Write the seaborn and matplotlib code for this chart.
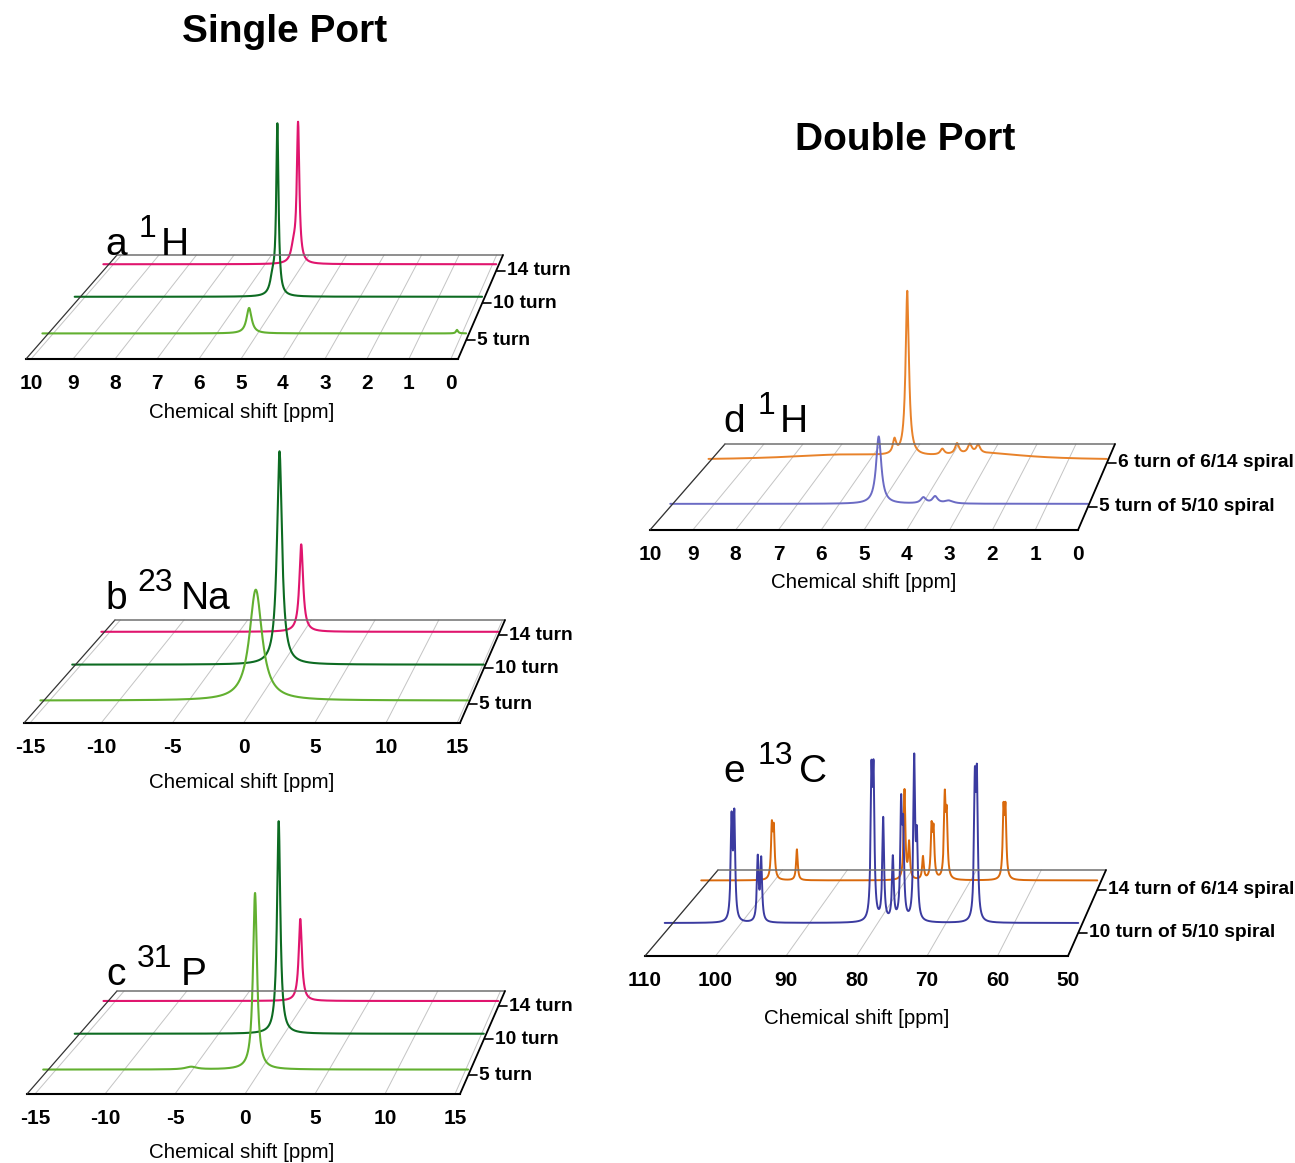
import numpy as np
import matplotlib
matplotlib.use("Agg")
import matplotlib.pyplot as plt
import matplotlib.transforms as mtransforms
from matplotlib.lines import Line2D
import seaborn as sns

sns.set_style("white")
plt.rcParams["font.family"] = ["Liberation Sans", "DejaVu Sans"]
plt.rcParams["axes.unicode_minus"] = False
plt.rcParams["text.color"] = "black"
plt.rcParams["xtick.color"] = "black"
plt.rcParams["xtick.labelcolor"] = "black"

W, H = 1295, 1163

# ---------------- data (peak lists) ----------------
# Panel a: 1H, single port
a_rows = ["14 turn", "10 turn", "5 turn"]
a14_ppm = [5.02, 5.14]
a14_int = [0.85, 0.09]
a14_fwhm = [0.08, 0.15]
a10_ppm = [5.00, 5.12]
a10_int = [1.00, 0.10]
a10_fwhm = [0.07, 0.15]
a5_ppm = [5.10, 0.05]
a5_int = [0.145, 0.02]
a5_fwhm = [0.15, 0.06]

# Panel b: 23Na, single port
b_rows = ["14 turn", "10 turn", "5 turn"]
b14_ppm = [0.0]
b14_int = [0.425]
b14_fwhm = [0.35]
b10_ppm = [0.0]
b10_int = [1.00]
b10_fwhm = [0.45]
b5_ppm = [0.0]
b5_int = [0.50]
b5_fwhm = [1.1]

# Panel c: 31P, single port
c_rows = ["14 turn", "10 turn", "5 turn"]
c14_ppm = [-0.15]
c14_int = [0.40]
c14_fwhm = [0.30]
c10_ppm = [-0.15]
c10_int = [1.00]
c10_fwhm = [0.30]
c5_ppm = [-0.15, -4.8]
c5_int = [0.80, 0.012]
c5_fwhm = [0.35, 1.0]

# Panel d: 1H, double port
d_rows = ["6 turn of 6/14 spiral", "5 turn of 5/10 spiral"]
d6_ppm = [5.01, 5.33, 4.13, 3.76, 3.44, 3.23, 6.6, 3.0]
d6_int = [1.00, 0.085, 0.035, 0.065, 0.055, 0.05, 0.03, 0.035]
d6_fwhm = [0.10, 0.10, 0.12, 0.12, 0.12, 0.12, 3.5, 2.5]
d5_ppm = [5.01, 3.94, 3.66, 3.33]
d5_int = [0.39, 0.034, 0.04, 0.017]
d5_fwhm = [0.15, 0.15, 0.15, 0.25]

# Panel e: 13C, double port
e_rows = ["14 turn of 6/14 spiral", "10 turn of 5/10 spiral"]
e14_ppm = [99.3, 99.0, 95.5, 79.2, 78.5, 76.4, 75.1, 74.8, 73.1, 72.8, 64.2, 63.9]
e14_int = [0.31, 0.29, 0.19, 0.55, 0.22, 0.14, 0.30, 0.28, 0.48, 0.36, 0.40, 0.40]
e14_fwhm = [0.3] * 12
e10_ppm = [100.3, 99.9, 96.5, 96.0, 80.0, 79.7, 78.3, 76.9, 75.7, 75.4, 73.8, 73.4, 65.0, 64.7]
e10_int = [0.58, 0.60, 0.37, 0.36, 0.79, 0.79, 0.60, 0.37, 0.64, 0.49, 0.93, 0.45, 0.76, 0.78]
e10_fwhm = [0.3] * 14

PINK = "#e0156e"
DKGREEN = "#0d6b22"
LTGREEN = "#62b030"
ORANGE_D = "#e8822a"
BLUE_D = "#6b6bc4"
ORANGE_E = "#d9690c"
BLUE_E = "#3b3ba0"


def spectrum(x, ppm, inten, fwhm):
    y = np.zeros_like(x)
    for p, h, w in zip(ppm, inten, fwhm):
        y += h / (1.0 + ((x - p) / (w / 2.0)) ** 2)
    return y


fig = plt.figure(figsize=(W / 100, H / 100), dpi=100)

IDT = mtransforms.IdentityTransform()


def px_line(xs, ys, **kw):
    ln = Line2D(xs, ys, transform=IDT, **kw)
    fig.add_artist(ln)


def fig_text(x, y_top, s, **kw):
    fig.text(x / W, 1 - y_top / H, s, **kw)


def panel(geom, xlim, major, minor, zpx, elev, rows, xlabel_xy, lab, lw=1.5):
    fl, fr, fy, bl, br, by = geom
    hpx = 260
    ax = fig.add_axes([fl / W, (H - fy) / H, (fr - fl) / W, hpx / H])
    floor = -elev / zpx
    cx = (fl + fr) / 2.0
    y0 = H - fy
    s1 = (br - bl) / (fr - fl)
    k = 1 - s1
    Sx = bl - cx - (fl - cx) * s1
    Hd = fy - by

    def T(d):
        s = 1 - k * d
        return ax.transData + mtransforms.Affine2D().translate(-cx, -y0).scale(s).translate(
            cx + Sx * d, y0 + Hd * d)

    def lims():
        ax.set_xlim(*xlim)
        ax.set_ylim(floor, floor + hpx / zpx)

    lims()
    lo, hi = min(xlim), max(xlim)
    for (name, d, col, ppm, inten, fwhm) in rows:
        x = np.linspace(lo, hi, 4000)
        y = spectrum(x, ppm, inten, fwhm)
        n0 = len(ax.lines)
        sns.lineplot(x=x, y=y, ax=ax, color=col, linewidth=lw, sort=False, estimator=None)
        ln = ax.lines[n0]
        ln.set_transform(T(d))
        ln.set_clip_on(False)
        ln.set_zorder(3)
    ax.set_xlabel("")
    ax.set_ylabel("")
    lims()

    for sp in ["left", "right", "top"]:
        ax.spines[sp].set_visible(False)
    ax.spines["bottom"].set_linewidth(1.5)
    ax.spines["bottom"].set_color("black")
    ax.patch.set_visible(False)
    ax.set_yticks([])
    ax.set_xticks(major)
    ax.set_xticklabels([f"{v:g}" for v in major], fontsize=15, fontweight="bold", color="black")
    if minor:
        ax.set_xticks(minor, minor=True)
    ax.tick_params(axis="x", which="major", direction="out", length=7, width=1.3, pad=4, colors="black")
    ax.tick_params(axis="x", which="minor", direction="out", length=4, width=1.1, colors="black")

    T0, T1 = T(0.0), T(1.0)
    for t in major:
        p0 = T0.transform((t, floor))
        p1 = T1.transform((t, floor))
        px_line([p0[0], p1[0]], [p0[1], p1[1]], color="#c4c4c4", lw=0.7, zorder=0)
    fL = T0.transform((xlim[0], floor)); fR = T0.transform((xlim[1], floor))
    bL = T1.transform((xlim[0], floor)); bR = T1.transform((xlim[1], floor))
    px_line([fL[0], bL[0]], [fL[1], bL[1]], color="#333333", lw=0.9, zorder=1)
    px_line([bL[0], bR[0]], [bL[1], bR[1]], color="#707070", lw=1.1, zorder=1)
    px_line([fR[0], bR[0]], [fR[1], bR[1]], color="black", lw=1.3, zorder=1)

    for (name, d, col, ppm, inten, fwhm) in rows:
        p = T(d).transform((xlim[1], floor))
        px_line([p[0] + 1, p[0] + 9], [p[1], p[1]], color="black", lw=1.2)
        fig.text((p[0] + 11) / W, p[1] / H, name, fontsize=13.8, fontweight="bold",
                 va="center", ha="left", color="black")

    fig_text(xlabel_xy[0], xlabel_xy[1], "Chemical shift [ppm]", fontsize=14.8,
             ha="center", va="center", color="black")
    (lx, sx, ex, base, letter, sup, elem) = lab
    fig_text(lx, base, letter, fontsize=28, ha="left", va="baseline", color="black")
    fig_text(sx, base - 18, sup, fontsize=23, ha="left", va="baseline", color="black")
    fig_text(ex, base, elem, fontsize=28, ha="left", va="baseline", color="black")
    return ax


panel((26, 458, 359, 117, 503, 255), (10.12, -0.17),
      list(range(0, 11)), [i + 0.5 for i in range(10)], 179, 7,
      [(a_rows[0], 0.85, PINK, a14_ppm, a14_int, a14_fwhm),
       (a_rows[1], 0.535, DKGREEN, a10_ppm, a10_int, a10_fwhm),
       (a_rows[2], 0.18, LTGREEN, a5_ppm, a5_int, a5_fwhm)],
      (242, 412), (105, 139, 161, 255, "a", "1", "H"))

panel((24, 460, 723, 115, 505, 620), (-15.42, 15.2),
      [-15, -10, -5, 0, 5, 10, 15], [-12.5, -7.5, -2.5, 2.5, 7.5, 12.5], 226, 4,
      [(b_rows[0], 0.85, PINK, b14_ppm, b14_int, b14_fwhm),
       (b_rows[1], 0.53, DKGREEN, b10_ppm, b10_int, b10_fwhm),
       (b_rows[2], 0.18, LTGREEN, b5_ppm, b5_int, b5_fwhm)],
      (242, 782), (105, 137, 181, 609, "b", "23", "Na"))

panel((27, 460, 1094, 117, 505, 991), (-15.57, 15.36),
      [-15, -10, -5, 0, 5, 10, 15], [-12.5, -7.5, -2.5, 2.5, 7.5, 12.5], 225, 6,
      [(c_rows[0], 0.85, PINK, c14_ppm, c14_int, c14_fwhm),
       (c_rows[1], 0.53, DKGREEN, c10_ppm, c10_int, c10_fwhm),
       (c_rows[2], 0.18, LTGREEN, c5_ppm, c5_int, c5_fwhm)],
      (242, 1152), (106, 137, 181, 985, "c", "31", "P"))

panel((650, 1078, 530, 725, 1115, 444), (10, 0),
      list(range(0, 11)), [i + 0.5 for i in range(10)], 177, 3,
      [(d_rows[0], 0.78, ORANGE_D, d6_ppm, d6_int, d6_fwhm),
       (d_rows[1], 0.27, BLUE_D, d5_ppm, d5_int, d5_fwhm)],
      (864, 582), (723, 758, 780, 432, "d", "1", "H"), lw=1.4)

panel((645, 1068, 956, 718, 1106, 870), (110, 50),
      [110, 100, 90, 80, 70, 60, 50], [], 174, 10,
      [(e_rows[0], 0.77, ORANGE_E, e14_ppm, e14_int, e14_fwhm),
       (e_rows[1], 0.27, BLUE_E, e10_ppm, e10_int, e10_fwhm)],
      (857, 1018), (723, 758, 799, 782, "e", "13", "C"), lw=1.4)

fig_text(285, 32, "Single Port", fontsize=28, fontweight="bold", ha="center", va="center", color="black")
fig_text(905, 140, "Double Port", fontsize=28, fontweight="bold", ha="center", va="center", color="black")

fig.savefig("out.png", dpi=100)
